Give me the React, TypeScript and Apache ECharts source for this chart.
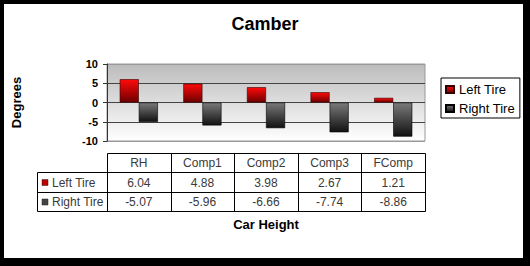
import React, { useEffect, useRef } from 'react';
import * as echarts from 'echarts';

const categories = ['RH', 'Comp1', 'Comp2', 'Comp3', 'FComp'];
const leftTire = [6.04, 4.88, 3.98, 2.67, 1.21];
const rightTire = [-5.07, -5.96, -6.66, -7.74, -8.86];
const seriesNames = ['Left Tire', 'Right Tire'];
const chartTitle = 'Camber';
const xTitle = 'Car Height';
const yTitle = 'Degrees';

const FONT = '"Liberation Sans", Arial, sans-serif';

const redGrad = {
  type: 'linear', x: 0, y: 0, x2: 0, y2: 1,
  colorStops: [{ offset: 0, color: '#ff0a0a' }, { offset: 1, color: '#6e0000' }],
};
const grayGrad = {
  type: 'linear', x: 0, y: 0, x2: 0, y2: 1,
  colorStops: [{ offset: 0, color: '#7a7a7a' }, { offset: 1, color: '#111111' }],
};
const bgGrad = {
  type: 'linear', x: 0, y: 0, x2: 0, y2: 1,
  colorStops: [{ offset: 0, color: '#bcbcbc' }, { offset: 1, color: '#ffffff' }],
};

export default function App() {
  const ref = useRef<HTMLDivElement>(null);
  useEffect(() => {
    const chart = echarts.init(ref.current!, null, { renderer: 'svg', width: 530, height: 266 });
    const gridTop = 64;
    const gridBottomY = 141;
    chart.setOption({
      animation: false,
      backgroundColor: 'transparent',
      textStyle: { fontFamily: FONT },
      title: {
        text: chartTitle,
        left: 'center',
        top: 15,
        padding: 0,
        textStyle: { fontFamily: FONT, fontSize: 18, fontWeight: 'bold', color: '#000' },
      },
      legend: {
        orient: 'vertical',
        left: 441,
        top: 78,
        padding: [4, 5, 2, 4],
        itemGap: 4,
        itemWidth: 8,
        itemHeight: 7,
        borderColor: '#000',
        borderWidth: 1,
        backgroundColor: '#fff',
        icon: 'rect',
        textStyle: { fontFamily: FONT, fontSize: 13, color: '#000', lineHeight: 15 },
        data: seriesNames,
      },
      grid: {
        left: 107,
        right: 105,
        top: gridTop,
        bottom: 266 - gridBottomY,
        show: true,
        backgroundColor: bgGrad,
        borderColor: '#999',
        borderWidth: 1,
      },
      xAxis: {
        type: 'category',
        data: categories,
        axisLine: { show: false },
        axisTick: { show: false },
        axisLabel: { show: false },
        splitLine: { show: false },
      },
      yAxis: {
        type: 'value',
        min: -10,
        max: 10,
        interval: 5,
        name: yTitle,
        nameLocation: 'middle',
        nameRotate: 90,
        nameGap: 84,
        nameTextStyle: { fontFamily: FONT, fontSize: 13, fontWeight: 'bold', color: '#000' },
        axisLine: { show: true, lineStyle: { color: '#333', width: 1 } },
        axisTick: { show: true, length: 4, lineStyle: { color: '#333' } },
        axisLabel: { margin: 9, fontFamily: FONT, fontSize: 11, fontWeight: 'bold', color: '#000' },
        splitLine: { show: true, lineStyle: { color: ['#999', '#444', '#444', '#444', '#999'], width: 1 } },
      },
      series: [
        {
          name: seriesNames[0],
          type: 'bar',
          data: leftTire,
          barGap: '0%',
          barCategoryGap: '40%',
          itemStyle: { color: redGrad, borderColor: '#300', borderWidth: 0.6 },
        },
        {
          name: seriesNames[1],
          type: 'bar',
          data: rightTire,
          barGap: '0%',
          barCategoryGap: '40%',
          itemStyle: { color: grayGrad, borderColor: '#000', borderWidth: 0.6 },
        },
      ],
    });

    // Data table under the plot, aligned with the category axis
    const centers = categories.map((c) => chart.convertToPixel({ xAxisIndex: 0 }, c) as number);
    const band = centers.length > 1 ? centers[1] - centers[0] : 60;
    const bounds = [centers[0] - band / 2, ...centers.map((c) => c + band / 2)].map((v) => Math.round(v) + 0.5);
    const leftX = 37.5;
    const rowY = [153.5, 172.5, 192.5, 211.5];
    const tableRows = [leftTire, rightTire];
    const rowColors = ['#c00000', '#444444'];
    const els: any[] = [];
    const line = (x1: number, y1: number, x2: number, y2: number) =>
      els.push({ type: 'line', silent: true, shape: { x1, y1, x2, y2 }, style: { stroke: '#000', lineWidth: 1 } });
    line(bounds[0], rowY[0], bounds[bounds.length - 1], rowY[0]);
    for (let r = 1; r < rowY.length; r++) line(leftX, rowY[r], bounds[bounds.length - 1], rowY[r]);
    bounds.forEach((b) => line(b, rowY[0], b, rowY[3]));
    line(leftX, rowY[1], leftX, rowY[3]);
    const txt = (text: string, x: number, y: number, align: string, size = 12) =>
      els.push({
        type: 'text', silent: true, x, y,
        style: { text, font: `${size}px ${FONT}`, fill: '#3a3a3a', align, verticalAlign: 'middle', textAlign: align, textVerticalAlign: 'middle' },
      });
    categories.forEach((c, i) => txt(c, centers[i], (rowY[0] + rowY[1]) / 2, 'center'));
    tableRows.forEach((vals, r) => {
      const yMid = (rowY[r + 1] + rowY[r + 2]) / 2;
      els.push({
        type: 'rect', silent: true,
        shape: { x: 42, y: yMid - 3, width: 6, height: 6 },
        style: { fill: rowColors[r], stroke: '#222', lineWidth: 0.5 },
      });
      txt(seriesNames[r], 52, yMid, 'left');
      vals.forEach((v, i) => txt(v.toFixed(2), centers[i], yMid, 'center'));
    });
    els.push({
      type: 'text', silent: true, x: 266, y: 224,
      style: { text: xTitle, font: `bold 13px ${FONT}`, fill: '#000', align: 'center', verticalAlign: 'middle', textAlign: 'center', textVerticalAlign: 'middle' },
    });
    chart.setOption({ graphic: { elements: els } });

    return () => chart.dispose();
  }, []);

  return (
    <div
      style={{
        position: 'absolute',
        left: 0,
        top: 0,
        width: 530,
        height: 266,
        background: '#fff',
        boxShadow: 'inset 4px 4px 0 0 #000, inset -7px -8px 0 0 #000',
      }}
    >
      <div ref={ref} style={{ position: 'absolute', left: 0, top: 0, width: 530, height: 266 }} />
    </div>
  );
}
